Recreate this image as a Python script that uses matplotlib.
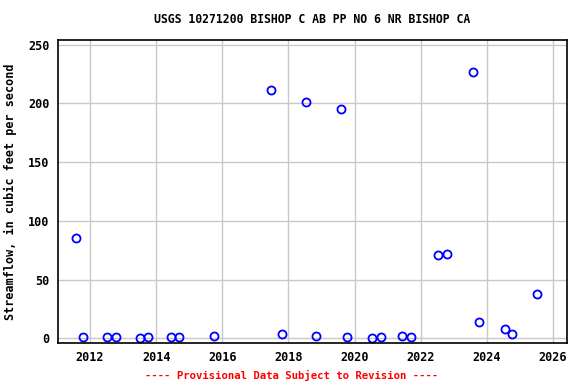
import matplotlib
matplotlib.use("Agg")
import matplotlib.pyplot as plt

years = [2011.58, 2011.79, 2012.52, 2012.79, 2013.52, 2013.76, 2014.45, 2014.70,
         2015.76, 2017.48, 2017.82, 2018.52, 2018.82, 2019.58, 2019.76, 2020.52,
         2020.79, 2021.45, 2021.70, 2022.52, 2022.79, 2023.58, 2023.76, 2024.55,
         2024.76, 2025.52]
flow = [85, 1, 1, 1, 0.5, 1, 1, 1,
        2, 211, 3.5, 201, 2, 195, 1, 0.5,
        1, 2, 1, 71, 72, 227, 14, 7.5,
        3.5, 38]

xticks = [2012, 2014, 2016, 2018, 2020, 2022, 2024, 2026]
yticks = [0, 50, 100, 150, 200, 250]

font = "DejaVu Sans Mono"

fig = plt.figure(figsize=(5.76, 3.84), dpi=100)
ax = fig.add_axes([0.1007, 0.1068, 0.8833, 0.7891])
ax.plot(years, flow, linestyle="none", marker="o", markersize=5.8,
        markerfacecolor="none", markeredgecolor="blue", markeredgewidth=1.3)
ax.set_xlim(2011.03, 2026.42)
ax.set_ylim(-4, 254)
ax.set_xticks(xticks)
ax.set_yticks(yticks)
ax.grid(True, color="#c8c8c8", linewidth=1)
ax.set_axisbelow(True)
for s in ax.spines.values():
    s.set_linewidth(1.2)
ax.tick_params(length=0, pad=6)
for lbl in ax.get_xticklabels() + ax.get_yticklabels():
    lbl.set_fontfamily(font)
    lbl.set_fontweight("bold")
    lbl.set_fontsize(8.5)
ax.set_ylabel("Streamflow, in cubic feet per second", fontfamily=font,
              fontweight="bold", fontsize=8.5, labelpad=8)
ax.set_title("USGS 10271200 BISHOP C AB PP NO 6 NR BISHOP CA", fontfamily=font,
             fontweight="bold", fontsize=8.3, pad=12)
fig.text(0.507, 0.012, "---- Provisional Data Subject to Revision ----", color="red",
         ha="center", fontfamily=font, fontweight="bold", fontsize=7.7)
fig.savefig("out.png", dpi=100)
